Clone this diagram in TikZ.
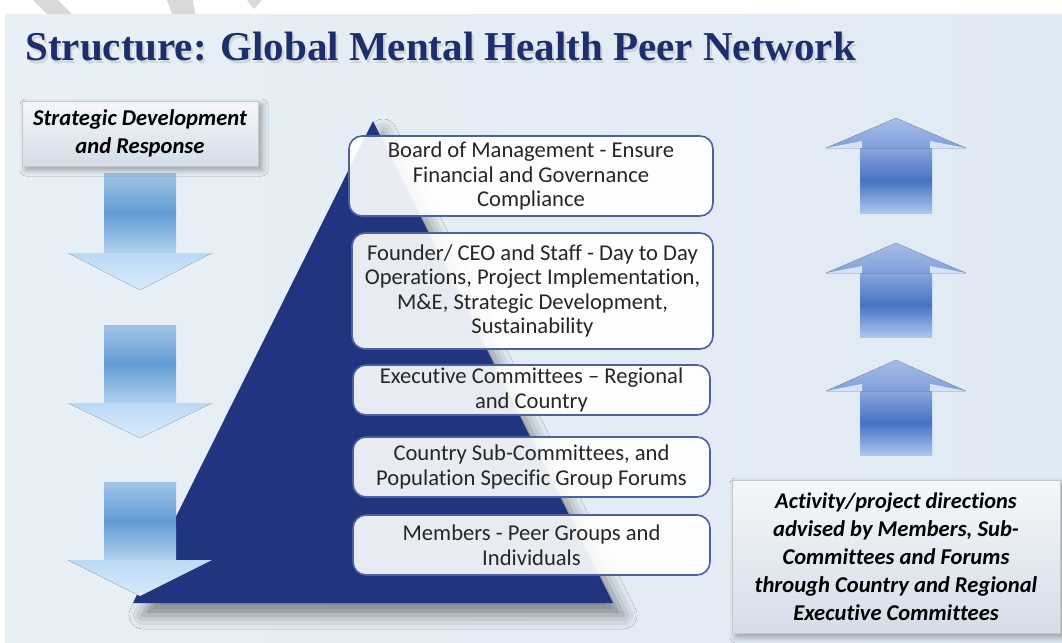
\documentclass[tikz,border=0pt]{standalone}
\usepackage{fontspec}
\setmainfont{Carlito}[Ligatures=NoCommon]
\newfontfamily\titlefont{Liberation Serif}
\usetikzlibrary{shadows.blur}

\definecolor{slidebg}{RGB}{224,234,244}
\definecolor{slidebgl}{RGB}{232,239,246}
\definecolor{navy}{RGB}{33,52,128}
\definecolor{titleblue}{RGB}{30,46,108}
\definecolor{boxline}{RGB}{78,96,160}
\definecolor{bevtop}{RGB}{244,247,250}
\definecolor{bevbot}{RGB}{212,221,232}
\definecolor{skytop}{RGB}{160,196,230}
\definecolor{skymid}{RGB}{98,156,212}
\definecolor{skybot}{RGB}{178,210,238}
\definecolor{skyhead}{RGB}{186,218,246}
\definecolor{upshaft}{RGB}{138,166,220}
\definecolor{upmid}{RGB}{70,114,196}
\definecolor{upbot}{RGB}{172,198,238}
\definecolor{uphead}{RGB}{128,160,220}
\definecolor{wmark}{RGB}{217,217,217}

\begin{document}
\begin{tikzpicture}
  [x=0.5pt,y=-0.5pt,
   level/.style={draw=boxline,line width=0.8pt,rounded corners=6.5pt,fill=white,
     fill opacity=0.9,text opacity=1,text=black!85,align=center,inner sep=0pt,
     font=\fontsize{11.3}{12.25}\selectfont},
   bevel/.style={draw=black!22,top color=bevtop,bottom color=bevbot,align=center,
     inner sep=0pt,blur shadow={shadow xshift=2pt,shadow yshift=-2pt,shadow opacity=35,
     shadow blur radius=3pt},font=\fontsize{11.3}{14}\selectfont\bfseries\itshape}]
  \useasboundingbox (0,0) rectangle (1062,643);

  % slide and watermark strip
  \fill[white] (0,0) rectangle (1062,643);
  \fill[left color=slidebgl,right color=slidebg] (5,14) rectangle (1062,643);
  \fill[wmark] (33,0) -- (58,0) -- (72,14) -- (47,14) -- cycle;
  \fill[wmark] (167,0) -- (193,0) -- (195,14) -- (172,14) -- cycle;
  \fill[wmark] (247,0) -- (262,0) -- (254,9) -- cycle;

  % title
  \node[anchor=base west,inner sep=0pt,text=black!40,opacity=.3,
    font=\titlefont\fontsize{20.5}{24}\selectfont\bfseries] at (27,63)
    {Structure: Global Mental Health Peer Network};
  \node[anchor=base west,inner sep=0pt,text=titleblue,
    font=\titlefont\fontsize{20.5}{24}\selectfont\bfseries] (title) at (25,60)
    {Structure: Global Mental Health Peer Network};

  % pyramid
  \fill[navy,blur shadow={shadow xshift=5pt,shadow yshift=-6pt,shadow opacity=45,
    shadow blur radius=7pt}] (373,121) -- (613,603) -- (133,603) -- cycle;

  % arrows down (left) and up (right)
  \foreach \st/\hb/\tp in {173/253/290,325/403/438,482/560/596}{
    \fill[top color=skytop,bottom color=skybot,middle color=skymid] (104,\st) rectangle (176,\hb);
    \fill[top color=skyhead,bottom color=skyhead!55!white] (68,\hb) -- (212,\hb) -- (140,\tp) -- cycle;
  }
  \foreach \tp/\hb/\bt in {118/148/213,243/273/337,360/391/455}{
    \fill[top color=upshaft,bottom color=upbot,middle color=upmid] (860,\hb) rectangle (932,\bt);
    \fill[top color=uphead!70!white,bottom color=uphead] (826,\hb) -- (896,\tp) -- (966,\hb) -- cycle;
    \fill[upbot!50!white] (826,\hb) -- (862,\hb-7) -- (862,\hb) -- cycle;
    \fill[upbot!50!white] (966,\hb) -- (930,\hb-7) -- (930,\hb) -- cycle;
  }

  % side boxes
  \node[bevel,minimum width=118pt,minimum height=32.5pt] (sdr) at (140,133.5)
    {Strategic Development\\and Response};
  \node[bevel,minimum width=164pt,minimum height=76.5pt] (act) at (896,556.5)
    {\fontsize{11.2}{13.5}\selectfont Activity/project directions\\advised by Members, Sub-\\Committees and Forums\\through Country and Regional\\Executive Committees};

  % levels
  \node[level,minimum width=182pt,minimum height=40pt] (b1) at (531,176)
    {Board of Management - Ensure\\Financial and Governance\\Compliance};
  \node[level,minimum width=180.5pt,minimum height=58pt] (b2) at (532.5,291)
    {Founder/ CEO and Staff - Day to Day\\Operations, Project Implementation,\\M\&E, Strategic Development,\\Sustainability};
  \node[level,minimum width=178.5pt,minimum height=25pt] (b3) at (531.5,390)
    {Executive Committees -- Regional\\and Country};
  \node[level,minimum width=178.5pt,minimum height=30pt] (b4) at (531.5,467)
    {Country Sub-Committees, and\\Population Specific Group Forums};
  \node[level,minimum width=178.5pt,minimum height=30pt] (b5) at (531.5,545)
    {Members - Peer Groups and\\Individuals};
\end{tikzpicture}
\end{document}
